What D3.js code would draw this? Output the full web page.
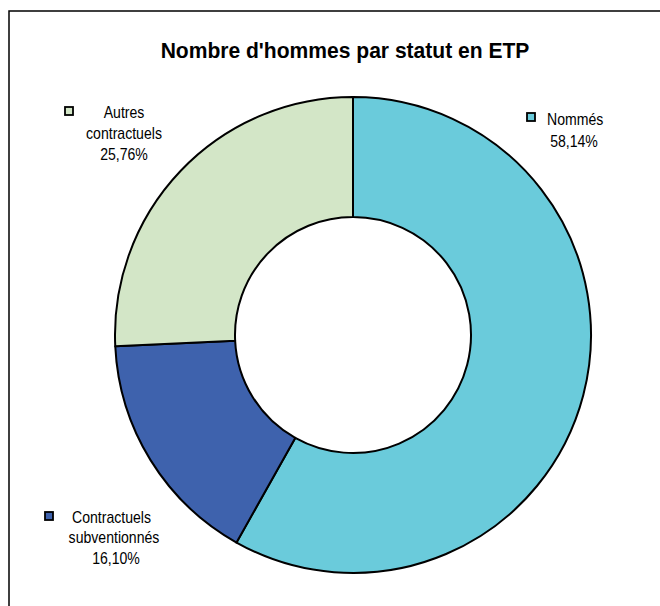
<!DOCTYPE html>
<html>
<head>
<meta charset="utf-8">
<script src="https://cdn.jsdelivr.net/npm/d3@7"></script>
<style>
  body { margin: 0; background: #fff; }
  svg text { font-family: "Liberation Sans", Arial, sans-serif; fill: #000; }
</style>
</head>
<body>
<div id="chart"></div>
<script>
// data
const categories = ["Nommés", "Contractuels subventionnés", "Autres contractuels"];
const shares = [58.14, 16.10, 25.76];
const shareLabels = ["58,14%", "16,10%", "25,76%"];
const sliceColors = ["#6acbdb", "#3e62ad", "#d3e6c7"];

const width = 660, height = 606;
const cx = 353, cy = 335;
const outerR = 238, innerR = 118;

const svg = d3.select('#chart')
    .append('svg')
    .attr('width', width)
    .attr('height', height);

// chart frame (runs past the right and bottom edges)
svg.append('rect')
    .attr('x', 9).attr('y', 11)
    .attr('width', 700).attr('height', 700)
    .attr('fill', 'none')
    .attr('stroke', '#000')
    .attr('stroke-width', 1.5);

// narrow-ish text like the original renderer
function addText(str, x, y, size, anchor, bold, sx) {
    svg.append('text')
        .attr('transform', `translate(${x},${y}) scale(${sx},1)`)
        .attr('text-anchor', anchor)
        .style('font-size', size + 'px')
        .style('font-weight', bold ? 'bold' : 'normal')
        .text(str);
}

addText("Nombre d'hommes par statut en ETP", 345, 58, 21.5, 'middle', true, 0.98);

const pie = d3.pie().sort(null).value(d => d);
const arc = d3.arc().innerRadius(innerR).outerRadius(outerR);

const g = svg.append('g').attr('transform', `translate(${cx},${cy})`);
g.selectAll('path')
    .data(pie(shares))
    .join('path')
    .attr('d', arc)
    .attr('fill', (d, i) => sliceColors[i])
    .attr('stroke', '#000')
    .attr('stroke-width', 2)
    .attr('stroke-linejoin', 'round');

// data labels with legend key boxes
const labels = [
    {box: [527, 113], lines: [["Nommés", 547, 125, 'start'], [shareLabels[0], 574, 147, 'middle']]},
    {box: [45, 512], lines: [["Contractuels", 72, 523, 'start'], ["subventionnés", 114, 543, 'middle'], [shareLabels[1], 116, 564, 'middle']]},
    {box: [65, 107], lines: [["Autres", 124, 118, 'middle'], ["contractuels", 124, 139, 'middle'], [shareLabels[2], 124, 160, 'middle']]}
];

labels.forEach((l, i) => {
    svg.append('rect')
        .attr('x', l.box[0]).attr('y', l.box[1])
        .attr('width', 8).attr('height', 8)
        .attr('fill', sliceColors[i])
        .attr('stroke', '#000')
        .attr('stroke-width', 1.8);
    l.lines.forEach(t => addText(t[0], t[1], t[2], 16, t[3], false, 0.88));
});
</script>
</body>
</html>
